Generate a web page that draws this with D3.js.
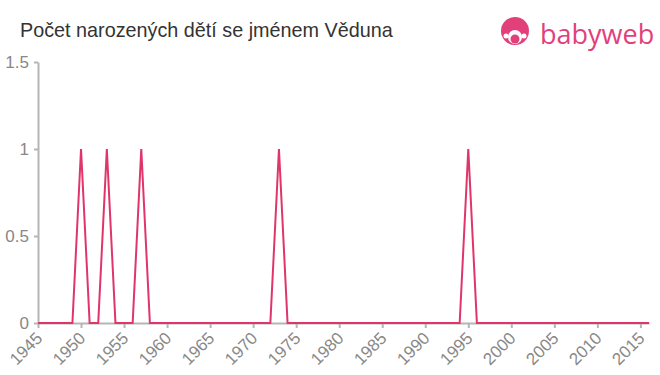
<!DOCTYPE html>
<html>
<head>
<meta charset="utf-8">
<script src="https://cdn.jsdelivr.net/npm/d3@7"></script>
<style>
  body { margin: 0; background: #fff; }
  svg { display: block; font-family: "Liberation Sans", Arial, sans-serif; }
</style>
</head>
<body>
<div id="chart"></div>
<script>
// data
var years = [1945, 1946, 1947, 1948, 1949, 1950, 1951, 1952, 1953, 1954,
  1955, 1956, 1957, 1958, 1959, 1960, 1961, 1962, 1963, 1964,
  1965, 1966, 1967, 1968, 1969, 1970, 1971, 1972, 1973, 1974,
  1975, 1976, 1977, 1978, 1979, 1980, 1981, 1982, 1983, 1984,
  1985, 1986, 1987, 1988, 1989, 1990, 1991, 1992, 1993, 1994,
  1995, 1996, 1997, 1998, 1999, 2000, 2001, 2002, 2003, 2004,
  2005, 2006, 2007, 2008, 2009, 2010, 2011, 2012, 2013, 2014,
  2015, 2016];
var counts = [0, 0, 0, 0, 0, 1, 0, 0, 1, 0,
  0, 0, 1, 0, 0, 0, 0, 0, 0, 0,
  0, 0, 0, 0, 0, 0, 0, 0, 1, 0,
  0, 0, 0, 0, 0, 0, 0, 0, 0, 0,
  0, 0, 0, 0, 0, 0, 0, 0, 0, 0,
  1, 0, 0, 0, 0, 0, 0, 0, 0, 0,
  0, 0, 0, 0, 0, 0, 0, 0, 0, 0,
  0, 0];
var xTicks = [1945, 1950, 1955, 1960, 1965, 1970, 1975, 1980, 1985, 1990, 1995, 2000, 2005, 2010, 2015];
var yTicks = [0, 0.5, 1, 1.5];
var title = 'Počet narozených dětí se jménem Věduna';

var width = 660, height = 375;
var margin = {top: 62, right: 11, bottom: 52, left: 38};

var svg = d3.select('#chart')
  .append('svg')
    .attr('width', width)
    .attr('height', height);

// title
svg.append('text')
  .attr('x', 20)
  .attr('y', 37)
  .attr('fill', '#333')
  .style('font-size', '19.8px')
  .text(title);

// logo
var logo = svg.append('g').attr('transform', 'translate(515,33)');
logo.append('circle').attr('r', 14).attr('cy', -2).attr('fill', '#e2407b');
logo.append('circle').attr('r', 7).attr('cy', 4).attr('fill', '#fff');
logo.append('circle').attr('r', 4.5).attr('cy', 6).attr('fill', '#e2407b');
logo.append('circle').attr('r', 2.5).attr('cx', -9).attr('cy', 3).attr('fill', '#fff');
logo.append('circle').attr('r', 2.5).attr('cx', 9).attr('cy', 3).attr('fill', '#fff');
svg.append('text')
  .attr('x', 540)
  .attr('y', 44)
  .attr('fill', '#e2407b')
  .style('font-size', '27px')
  .style('font-family', '"Open Sans", sans-serif')
  .text('babyweb');

var g = svg.append('g');

var x_scale = d3.scaleLinear()
  .domain([1945, 2016])
  .range([margin.left, width - margin.right]);
var y_scale = d3.scaleLinear()
  .domain([0, 1.5])
  .range([height - margin.bottom, margin.top]);

// x axis
var xAxis = g.append('g')
  .attr('transform', 'translate(0,' + (height - margin.bottom) + ')')
  .call(d3.axisBottom(x_scale).tickValues(xTicks).tickFormat(d3.format('d')).tickSize(5).tickSizeOuter(0));
xAxis.selectAll('.tick text')
  .attr('fill', '#888')
  .style('font-size', '17px')
  .style('font-family', '"Liberation Sans", Arial, sans-serif')
  .attr('text-anchor', 'end')
  .attr('x', -8)
  .attr('y', 9)
  .attr('dy', '0.35em')
  .attr('transform', 'rotate(-45)');

// y axis
var yAxis = g.append('g')
  .attr('transform', 'translate(' + margin.left + ',0)')
  .call(d3.axisLeft(y_scale).tickValues(yTicks).tickFormat(function(d) { return d; }).tickSize(4).tickSizeOuter(0));
yAxis.selectAll('text')
  .attr('fill', '#888')
  .style('font-size', '17px')
  .style('font-family', '"Liberation Sans", Arial, sans-serif')
  .attr('x', -9);

g.selectAll('.domain, .tick line')
  .attr('stroke', '#b5b5b5')
  .attr('stroke-width', 2);

// line
var line = d3.line()
  .x(function(d, i) { return x_scale(years[i]); })
  .y(function(d) { return y_scale(d); });

g.append('path')
  .datum(counts)
  .attr('fill', 'none')
  .attr('stroke', '#e0356b')
  .attr('stroke-width', 2)
  .attr('d', line);
</script>
</body>
</html>
